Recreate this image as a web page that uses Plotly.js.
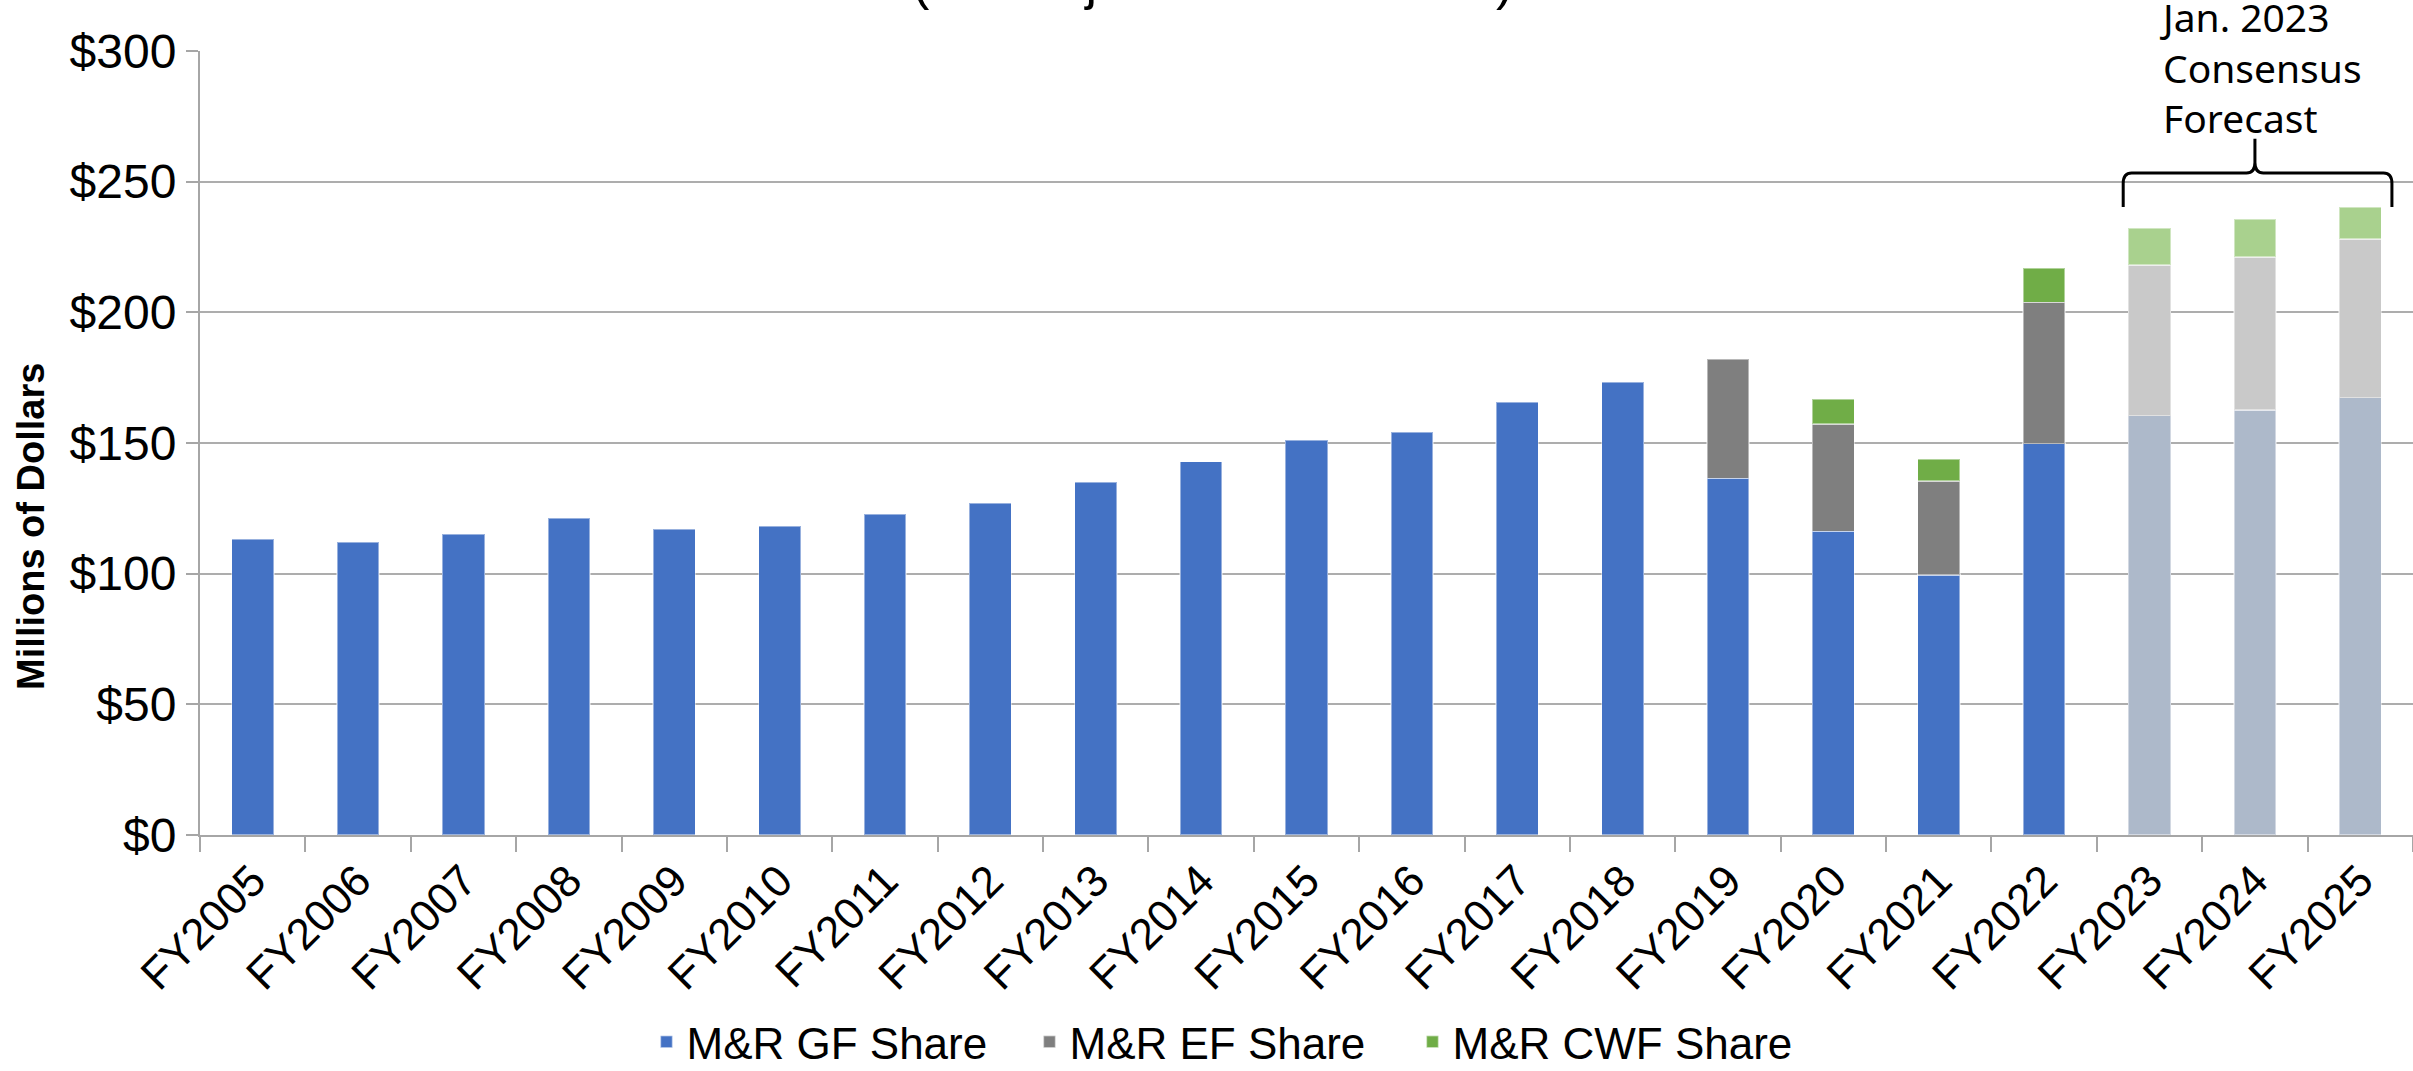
<!DOCTYPE html>
<html>
<head>
<meta charset="utf-8">
<script src="https://cdn.plot.ly/plotly-3.0.1.min.js"></script>
<style>html,body{margin:0;padding:0;background:#fff;}#chart{width:2413px;height:1071px;}</style>
</head>
<body>
<div id="chart"></div>
<script>
// ---- Data (millions of dollars) ----
var categories = ["FY2005","FY2006","FY2007","FY2008","FY2009","FY2010","FY2011","FY2012","FY2013","FY2014","FY2015","FY2016","FY2017","FY2018","FY2019","FY2020","FY2021","FY2022","FY2023","FY2024","FY2025"];
var gfShare  = [113.2,112.0,115.2,121.2,117.1,118.2,122.7,126.9,135.0,142.9,151.0,154.2,165.6,173.2,136.5,116.2,99.4,149.8,160.5,162.6,167.4];
var efShare  = [null,null,null,null,null,null,null,null,null,null,null,null,null,null,45.7,41.0,36.0,54.0,57.6,58.6,60.7];
var cwfShare = [null,null,null,null,null,null,null,null,null,null,null,null,null,null,null,9.7,8.5,13.1,14.2,14.5,12.2];
var seriesNames = ["M&R GF Share","M&R EF Share","M&R CWF Share"];
var forecastStart = "FY2023";
var yTicks = [0,50,100,150,200,250,300];
var yTickLabels = ["$0","$50","$100","$150","$200","$250","$300"];
var titleText = "(Not Adjusted for Inflation)";
var yTitleText = "Millions of Dollars";
var forecastLabel = "Jan. 2023<br>Consensus<br>Forecast";

// ---- Styles ----
var FONT = "Liberation Sans, Arial, sans-serif";
var fIdx = categories.indexOf(forecastStart);
function colorsFor(actual, forecast){
  return categories.map(function(c,i){ return i >= fIdx ? forecast : actual; });
}
var edge = {color:"rgba(255,255,255,0.45)", width:1.5};

var traces = [
  {type:"bar", name:seriesNames[0], x:categories, y:gfShare,
   marker:{color:colorsFor("#4472C4","#ADB9CA"), line:edge}},
  {type:"bar", name:seriesNames[1], x:categories, y:efShare,
   marker:{color:colorsFor("#7F7F7F","#C9C9C9"), line:edge}},
  {type:"bar", name:seriesNames[2], x:categories, y:cwfShare,
   marker:{color:colorsFor("#70AD47","#A9D18E"), line:edge}}
];

// brace over forecast years (in category-index units)
var bx0 = fIdx - 0.25, bx1 = categories.length - 1 + 0.3, bxm = (fIdx + categories.length - 1)/2;
var yb = 240.3, ys = 253.3, yt = 266.4, rx = 0.08, ry = 4;
var bracePath = "M"+bx0+","+yb+" L"+bx0+","+(ys-ry)+" Q"+bx0+","+ys+" "+(bx0+rx)+","+ys+
  " L"+(bxm-rx)+","+ys+" Q"+bxm+","+ys+" "+bxm+","+(ys+ry)+" L"+bxm+","+yt+
  " M"+bxm+","+(ys+ry)+" Q"+bxm+","+ys+" "+(bxm+rx)+","+ys+
  " L"+(bx1-rx)+","+ys+" Q"+bx1+","+ys+" "+bx1+","+(ys-ry)+" L"+bx1+","+yb;

var layout = {
  width:2413, height:1071,
  margin:{l:200, r:0, t:51, b:236, pad:0},
  paper_bgcolor:"#fff", plot_bgcolor:"#fff",
  barmode:"stack", bargap:0.6,
  font:{family:FONT, color:"#000"},
  showlegend:true,
  legend:{orientation:"h", xref:"container", yref:"container", x:0.506, xanchor:"center",
          y:0.027, yanchor:"middle", font:{family:FONT, size:44, color:"#000"},
          entrywidth:338, entrywidthmode:"pixels", traceorder:"normal"},
  xaxis:{type:"category", categoryorder:"array", categoryarray:categories,
         range:[-0.5, categories.length-0.5],
         tickangle:-45, tickfont:{family:FONT, size:44, color:"#000"},
         ticks:"outside", tickson:"boundaries", ticklen:15, tickwidth:2, tickcolor:"#A6A6A6",
         showline:true, linecolor:"#A6A6A6", linewidth:2, showgrid:false, zeroline:false, fixedrange:true},
  yaxis:{range:[0,300], tickmode:"array", tickvals:yTicks, ticktext:yTickLabels,
         tickfont:{family:FONT, size:48, color:"#000"},
         ticks:"outside", ticklen:12, tickwidth:2, tickcolor:"#A6A6A6",
         showgrid:true, gridcolor:"#ADADAD", gridwidth:2,
         showline:true, linecolor:"#A6A6A6", linewidth:2, zeroline:false, fixedrange:true},
  shapes:[{type:"path", xref:"x", yref:"y", path:bracePath, line:{color:"#000", width:3}}],
  annotations:[
    {text:titleText, xref:"paper", yref:"paper", x:0.4573, y:1.0497, xanchor:"center", yanchor:"bottom",
     showarrow:false, font:{family:FONT, size:52, color:"#000"}},
    {text:"<b>"+yTitleText+"</b>", xref:"paper", yref:"paper", x:0, xshift:-169, y:0.393,
     xanchor:"center", yanchor:"middle", textangle:-90, showarrow:false,
     font:{family:FONT, size:38, color:"#000"}},
    {text:forecastLabel, xref:"paper", yref:"paper", x:(2157-200)/2213, y:0.879,
     xanchor:"left", yanchor:"bottom", align:"left", showarrow:false,
     font:{family:"Noto Sans, Open Sans, sans-serif", size:39, color:"#000"}}
  ]
};

Plotly.newPlot("chart", traces, layout, {staticPlot:true, displayModeBar:false});
</script>
</body>
</html>
